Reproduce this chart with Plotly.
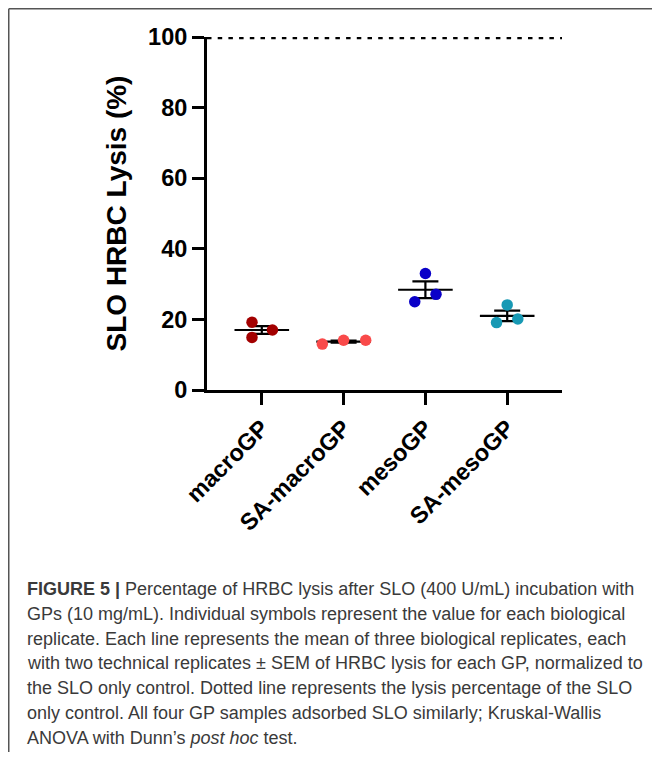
import plotly.graph_objects as go

categories = ["macroGP", "SA-macroGP", "mesoGP", "SA-mesoGP"]
colors = ["#a30000", "#f94a4a", "#0a00c8", "#1899b4"]
values = [
    [19.2, 17.0, 14.9],
    [13.0, 14.1, 14.1],
    [33.0, 27.1, 25.0],
    [24.1, 20.1, 19.1],
]
jitter = [
    [-0.12, 0.13, -0.12],
    [-0.26, 0.0, 0.27],
    [0.0, 0.13, -0.13],
    [0.0, 0.13, -0.13],
]
means = [17.0, 13.7, 28.4, 21.0]
sems = [1.1, 0.3, 2.4, 1.5]
control_level = 100
yticks = [0, 20, 40, 60, 80, 100]

caption_lines = [
    "<b>FIGURE 5 |</b> Percentage of HRBC lysis after SLO (400 U/mL) incubation with",
    "GPs (10 mg/mL). Individual symbols represent the value for each biological",
    "replicate. Each line represents the mean of three biological replicates, each",
    "with two technical replicates \u00b1 SEM of HRBC lysis for each GP, normalized to",
    "the SLO only control. Dotted line represents the lysis percentage of the SLO",
    "only control. All four GP samples adsorbed SLO similarly; Kruskal-Wallis",
    "ANOVA with Dunn\u2019s <i>post hoc</i> test.",
]

# page has an 8px body margin; figure is sized to fit the 660x760 window
OFF = 8
W, H = 660 - 2 * OFF, 760 - 2 * OFF
L, T = 207 - OFF, 37 - OFF
R = W - (562 - OFF)
B = H - (390 - OFF)
PW, PH = W - L - R, H - T - B


def px(x):
    return (x - OFF - L) / PW


def py(y):
    return (H - B - (y - OFF)) / PH


FONT = "Liberation Sans, Arial, sans-serif"

fig = go.Figure()

# control dotted line
fig.add_trace(go.Scatter(
    x=[-0.67, 3.67], y=[control_level, control_level], mode="lines",
    line=dict(color="black", width=4.5, dash="4.5px,6.2px"),
    hoverinfo="skip", showlegend=False, cliponaxis=False,
))

xi = list(range(len(categories)))

# mean lines with SEM
fig.add_trace(go.Scatter(
    x=xi, y=means, mode="markers",
    marker=dict(symbol="line-ew", size=39, color="black",
                line=dict(color="black", width=2.2)),
    error_y=dict(type="data", array=sems, visible=True, color="black",
                 thickness=2.2, width=13),
    showlegend=False, hoverinfo="skip",
))

for i, cat in enumerate(categories):
    fig.add_trace(go.Scatter(
        x=[i + j for j in jitter[i]], y=values[i], mode="markers",
        marker=dict(size=11.5, color=colors[i], line=dict(width=0)),
        name=cat, showlegend=False,
    ))

fig.update_xaxes(
    range=[-0.67, 3.67], tickmode="array", tickvals=xi, ticktext=categories,
    tickangle=-45, showline=True, linecolor="black", linewidth=3,
    ticks="outside", ticklen=12, tickwidth=3, tickcolor="black",
    showgrid=False, zeroline=False,
    tickfont=dict(family=FONT, size=23.5, weight="bold", color="black"),
)
fig.update_yaxes(
    range=[0, 100], tickmode="array", tickvals=yticks,
    showline=True, linecolor="black", linewidth=3,
    ticks="outside", ticklen=12, tickwidth=3, tickcolor="black",
    showgrid=False, zeroline=False,
    tickfont=dict(family=FONT, size=23.5, weight="bold", color="black"),
    title=dict(text="SLO HRBC Lysis (%)", standoff=14,
               font=dict(family=FONT, size=28, weight="bold", color="black")),
)

# caption
for k, line in enumerate(caption_lines):
    fig.add_annotation(
        text=line, xref="paper", yref="paper", x=px(25), y=py(601 + k * 24.8),
        xanchor="left", yanchor="bottom", showarrow=False, align="left",
        font=dict(family=FONT, size=18, color="#3a3a3a"),
    )

# frame lines (top and left)
fig.add_shape(type="line", xref="paper", yref="paper",
              x0=px(8.75), x1=px(670), y0=py(8.75), y1=py(8.75),
              line=dict(color="#555555", width=1.5))
fig.add_shape(type="line", xref="paper", yref="paper",
              x0=px(8.75), x1=px(8.75), y0=py(8.75), y1=py(770),
              line=dict(color="#555555", width=1.5))

fig.update_layout(
    width=W, height=H, margin=dict(l=L, r=R, t=T, b=B, autoexpand=False),
    plot_bgcolor="white", paper_bgcolor="white", showlegend=False,
)

fig.write_html("out.html")
